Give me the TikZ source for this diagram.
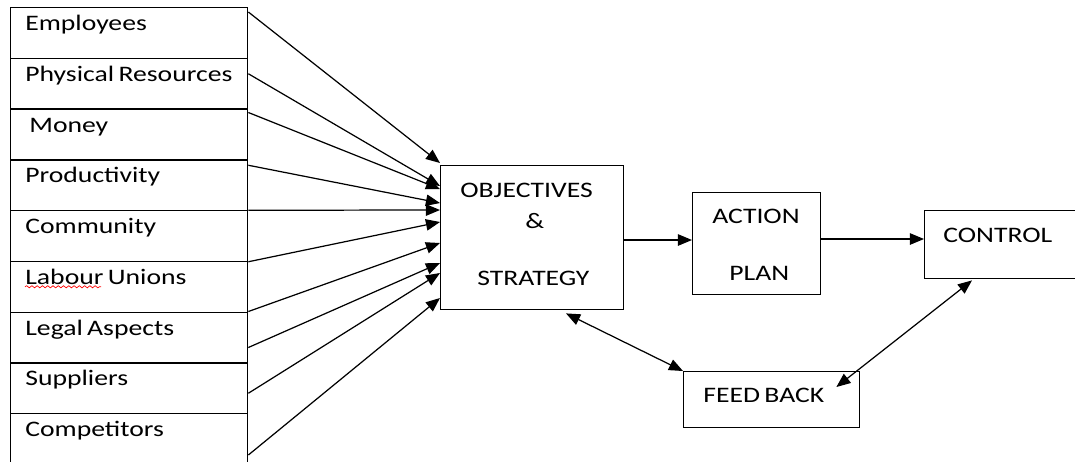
\documentclass[tikz,border=0pt]{standalone}
\usepackage{fontspec}
\setmainfont{Carlito}[FakeStretch=1.25, WordSpace=0.7]
\usetikzlibrary{arrows.meta, decorations.pathmorphing}

\tikzset{
  factor/.style={draw, line width=0.8pt, rectangle, inner sep=0pt,
    minimum width=4.74cm, minimum height=1.015cm, anchor=north west},
  stage/.style={draw, line width=0.8pt, rectangle, inner sep=0pt, anchor=north west},
  tag/.style={anchor=base west, inner sep=0pt, font=\fontsize{12.6}{15}\selectfont},
  flow/.style={line width=0.7pt, -{Triangle[length=8pt, width=6.5pt]}},
  twoway/.style={line width=0.7pt,
    {Triangle[length=8pt, width=6.5pt]}-{Triangle[length=8pt, width=6.5pt]}},
}

\begin{document}
\begin{tikzpicture}[x=0.02cm, y=-0.02cm]
  \useasboundingbox (0,0) rectangle (1075,461);

  % column of influencing factors
  \foreach \nm/\txt/\dx [count=\i from 0] in {emp/Employees/0, phys/Physical Resources/0,
      money/Money/4, prod/Productivity/0, comm/Community/0, lab/Labour Unions/0,
      legal/Legal Aspects/0, supp/Suppliers/0, comp/Competitors/0}{
    \node[factor] (\nm) at (10, 7+50.75*\i) {};
    \node[tag] (\nm-t) at ([shift={(15+\dx,23.5)}]\nm.north west) {\txt};
  }
  \draw[red, line width=0.4pt, decorate, decoration={snake, segment length=3pt, amplitude=0.6pt}]
    ([shift={(0,2.5)}]lab-t.base west) -- ++(76,0);

  % planning stages
  \node[stage, minimum width=3.66cm, minimum height=2.88cm] (obj) at (440,165) {};
  \node[stage, minimum width=2.56cm, minimum height=2.04cm] (act) at (692,192) {};
  \node[stage, minimum width=3.12cm, minimum height=1.36cm] (ctrl) at (924,210) {};
  \node[stage, minimum width=3.52cm, minimum height=1.12cm] (fb) at (683,371) {};

  \node[tag] (obj-a) at (460,197) {OBJECTIVES};
  \node[tag] (obj-b) at (525,228) {\&};
  \node[tag] (obj-c) at (477,285) {STRATEGY};
  \node[tag] (act-a) at (712,223) {ACTION};
  \node[tag] (act-b) at (729,280) {PLAN};
  \node[tag] (ctrl-t) at (943,242) {CONTROL};
  \node[tag] (fb-t) at (703,402) {FEED BACK};

  % factors feeding the objectives
  \foreach \src/\dy/\dt in {emp/5/-2, phys/16/21, money/4/24, prod/6/38, prod/51/45,
      lab/1/57, legal/0/78, legal/36/98, supp/31/108, comp/42/133}
    \draw[flow] ([shift={(0,\dy)}]\src.north east) -- ([shift={(0,\dt)}]obj.north west);

  \draw[flow] ([shift={(0,75)}]obj.north east) -- ([shift={(0,48)}]act.north west);
  \draw[flow] ([shift={(0,47)}]act.north east) -- ([shift={(0,29)}]ctrl.north west);

  % feedback loop
  \draw[twoway] ([shift={(126,3)}]obj.south west) -- (fb.north west);
  \draw[twoway] ([shift={(-24,16)}]fb.north east) -- ([shift={(48,1)}]ctrl.south west);
\end{tikzpicture}
\end{document}
